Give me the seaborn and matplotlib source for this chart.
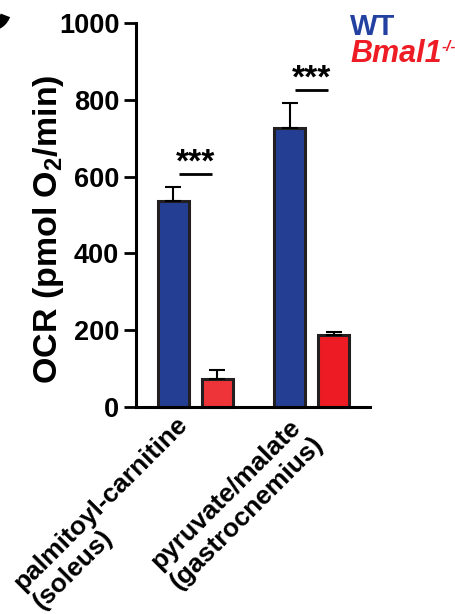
import matplotlib

matplotlib.use("Agg")

import matplotlib.pyplot as plt
import matplotlib.transforms as mtransforms
import pandas as pd
import seaborn as sns

CATEGORIES = ["palmitoyl-carnitine\n(soleus)", "pyruvate/malate\n(gastrocnemius)"]
GENOTYPES = ["WT", "Bmal1-/-"]
WT_MEAN = [536, 727]
WT_SEM = [37, 65]
KO_MEAN = [73, 188]
KO_SEM = [23, 7]
SIGNIFICANCE = ["***", "***"]
Y_TICKS = [0, 200, 400, 600, 800, 1000]

BLUE = "#233E93"
RED_1 = "#EE3438"
RED_2 = "#ED1C24"
EDGE = "#231F20"


def build_frame() -> pd.DataFrame:
    rows = []
    for cat, m, s in zip(CATEGORIES, WT_MEAN, WT_SEM):
        rows.append({"substrate": cat, "genotype": GENOTYPES[0], "ocr": m, "sem": s})
    for cat, m, s in zip(CATEGORIES, KO_MEAN, KO_SEM):
        rows.append({"substrate": cat, "genotype": GENOTYPES[1], "ocr": m, "sem": s})
    return pd.DataFrame(rows)


def main() -> None:
    sns.set_theme(style="ticks")
    plt.rcParams["font.family"] = ["Liberation Sans", "DejaVu Sans"]
    plt.rcParams["font.weight"] = "bold"
    plt.rcParams["mathtext.default"] = "regular"
    plt.rcParams["text.color"] = "black"
    plt.rcParams["axes.labelcolor"] = "black"
    plt.rcParams["xtick.color"] = "black"
    plt.rcParams["ytick.color"] = "black"

    df = build_frame()

    fig = plt.figure(figsize=(4.56, 6.14), dpi=100)
    ax = fig.add_axes([0.2982, 0.3371, 0.5132, 0.6254])

    sns.barplot(
        data=df, x="substrate", y="ocr", hue="genotype",
        order=CATEGORIES, hue_order=GENOTYPES,
        palette=[BLUE, RED_2], width=0.76, gap=0.3,
        errorbar=None, edgecolor=EDGE, linewidth=2.2,
        legend=False, ax=ax,
    )

    # seaborn draws hue by hue: WT bars first, then Bmal1 bars
    bar_colors = [BLUE, BLUE, RED_1, RED_2]
    for patch, color in zip(ax.patches, bar_colors):
        patch.set_facecolor(color)
        patch.set_clip_on(False)

    # upper-only SEM error bars
    for patch, (_, row) in zip(ax.patches, df.iterrows()):
        xc = patch.get_x() + patch.get_width() / 2
        ax.errorbar(xc, row["ocr"], yerr=[[0], [row["sem"]]], fmt="none",
                    ecolor="black", elinewidth=1.5, capsize=5.5, capthick=1.5,
                    zorder=1)

    # significance marks over each pair
    for i, label in enumerate(SIGNIFICANCE):
        top = max(WT_MEAN[i] + WT_SEM[i], KO_MEAN[i] + KO_SEM[i])
        line_y = top + 33
        ax.plot([i - 0.14, i + 0.14], [line_y, line_y], color="black", lw=2,
                solid_capstyle="butt", clip_on=False)
        ax.text(i, line_y - 10, label, ha="center", va="bottom",
                fontsize=24, fontweight="bold")

    ax.set_ylim(0, 1000)
    ax.set_xlim(-0.51, 1.5)
    ax.set_yticks(Y_TICKS)
    ax.set_xlabel("")
    ax.set_ylabel("OCR (pmol O$_2$/min)", fontsize=24.5, fontweight="bold")
    ax.yaxis.set_label_coords(-0.30, 0.464)

    ax.tick_params(axis="y", length=9, width=2, pad=3, labelsize=19.5)
    ax.tick_params(axis="x", length=0, pad=2, labelsize=19)
    for lab in ax.get_yticklabels():
        lab.set_fontweight("bold")
    offset = mtransforms.ScaledTranslation(-0.2, -0.02, fig.dpi_scale_trans)
    for lab in ax.get_xticklabels():
        lab.set_rotation(45)
        lab.set_ha("right")
        lab.set_va("top")
        lab.set_rotation_mode("anchor")
        lab.set_multialignment("left")
        lab.set_fontweight("bold")
        lab.set_transform(lab.get_transform() + offset)

    sns.despine(ax=ax)
    for side in ["left", "bottom"]:
        ax.spines[side].set_linewidth(2.2)
        ax.spines[side].set_color("black")

    # legend as coloured text
    fig.text(0.7675, 0.943, "WT", color="#2341A0", fontsize=21,
             fontweight="bold", va="baseline")
    ko = fig.text(0.7675, 0.899, "Bmal1", color="#EE1C25", fontsize=22,
                  fontweight="bold", style="italic", va="baseline")
    ax.annotate("-/-", xy=(1, 1), xycoords=ko, xytext=(0, -1),
                textcoords="offset points", ha="left", va="top",
                color="#EE1C25", fontsize=11, fontweight="bold",
                style="italic", annotation_clip=False)

    # panel letter, cut off at the figure edge
    fig.text(0.026, 0.982, "C", fontsize=54, fontweight="bold",
             ha="right", va="center")

    fig.savefig("out.png", dpi=100)
    plt.close(fig)


if __name__ == "__main__":
    main()
